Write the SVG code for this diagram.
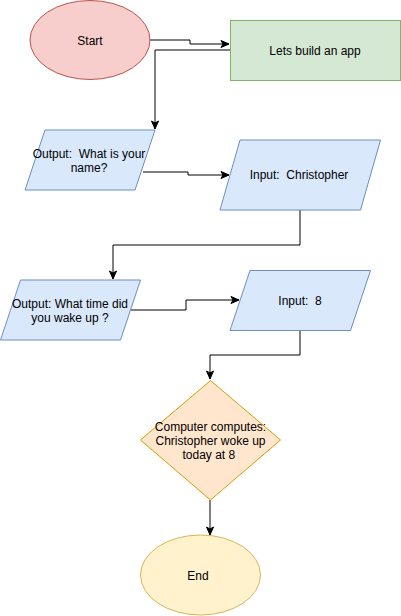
<svg xmlns="http://www.w3.org/2000/svg" width="401" height="616" viewBox="0 0 401 616">
<style>
text{font-family:"Liberation Sans",Arial,sans-serif;font-size:12px;fill:#000;text-anchor:middle;dominant-baseline:central;white-space:pre}
.c{fill:none;stroke:#000;stroke-width:1}
.red{fill:#f8cecc;stroke:#b85450}
.green{fill:#d5e8d4;stroke:#82b366}
.blue{fill:#dae8fc;stroke:#6c8ebf}
.orange{fill:#ffe6cc;stroke:#d79b00}
.yellow{fill:#fff2cc;stroke:#d6b656}
</style>
<defs>
<marker id="arr" markerUnits="userSpaceOnUse" markerWidth="10" markerHeight="10" refX="9" refY="5" orient="auto" viewBox="0 0 10 10">
<path d="M1,1.5 L9,5 L1,8.5 L3,5 Z" fill="#000" stroke="#000" stroke-width="1"/>
</marker>
</defs>
<rect width="401" height="616" fill="#fff"/>
<g id="connectors">
<path class="c" d="M150,40 H190 V44 H229" marker-end="url(#arr)"/>
<path class="c" d="M230,50 H155 V129" marker-end="url(#arr)"/>
<path class="c" d="M143,172 H188 V175 H229" marker-end="url(#arr)"/>
<path class="c" d="M300,210 V245 H113 V279" marker-end="url(#arr)"/>
<path class="c" d="M131,310 H186 V300 H239" marker-end="url(#arr)"/>
<path class="c" d="M300,330 V355 H210 V379" marker-end="url(#arr)"/>
<path class="c" d="M210,500 V535" marker-end="url(#arr)"/>
</g>
<g id="start">
<ellipse class="red" cx="90" cy="40" rx="60" ry="39.5"/>
<text x="90" y="41">Start</text>
</g>
<g id="build">
<rect class="green" x="230.5" y="20.5" width="170" height="60"/>
<text x="315" y="51">Lets build an app</text>
</g>
<g id="output1">
<polygon class="blue" points="45,130 155,130 135,190 25,190"/>
<text x="89" y="154" xml:space="preserve">Output:  What is your</text>
<text x="89" y="168">name?</text>
</g>
<g id="input1">
<polygon class="blue" points="240,140 380.5,140 360.5,210 220,210"/>
<text x="299" y="175" xml:space="preserve">Input:  Christopher</text>
</g>
<g id="output2">
<polygon class="blue" points="20.5,280 140.5,280 120.5,340 0.5,340"/>
<text x="70" y="303.5">Output: What time did</text>
<text x="70" y="317.5">you wake up ?</text>
</g>
<g id="input2">
<polygon class="blue" points="250,270.5 370.5,270.5 350.5,330.5 230,330.5"/>
<text x="300" y="301" xml:space="preserve">Input:  8</text>
</g>
<g id="compute">
<polygon class="orange" points="210.5,380.5 280.5,440 210.5,500 140.5,440"/>
<text x="210.5" y="427">Computer computes:</text>
<text x="210.5" y="441">Christopher woke up</text>
<text x="210.5" y="455" xml:space="preserve">today at 8 </text>
</g>
<g id="end">
<ellipse class="yellow" cx="200.5" cy="575" rx="60" ry="40"/>
<text x="198" y="576">End</text>
</g>
</svg>
